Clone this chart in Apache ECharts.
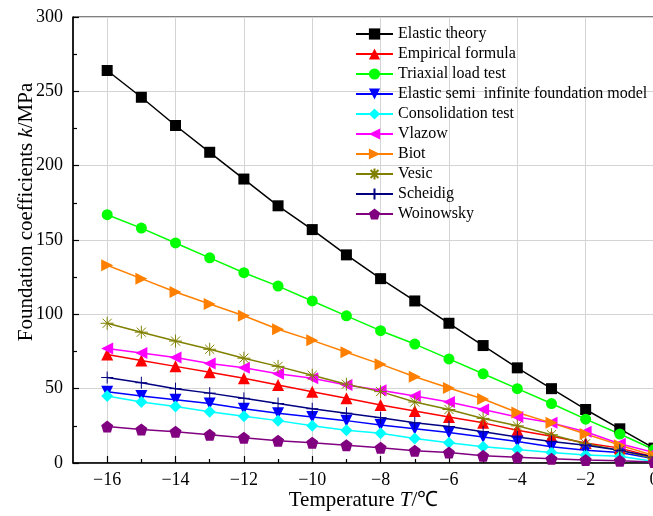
<!DOCTYPE html>
<html>
<head>
<meta charset="utf-8">
<script src="https://cdn.jsdelivr.net/npm/echarts@6/dist/echarts.min.js"></script>
<style>html,body{margin:0;padding:0;background:#fff;}#c{width:653px;height:516px;}</style>
</head>
<body>
<div id="c"></div>
<script>
const temps = [-16,-15,-14,-13,-12,-11,-10,-9,-8,-7,-6,-5,-4,-3,-2,-1,0];
const seriesNames = ['Elastic theory','Empirical formula','Triaxial load test','Elastic semi  infinite foundation model','Consolidation test','Vlazow','Biot','Vesic','Scheidig','Woinowsky'];
const elasticTheory = [264,246,227,209,191,173,157,140,124,109,94,79,64,50,36,23,10];
const empiricalFormula = [73,69,65,61,57,52.5,48,43.5,39,35,31,27,22,18,13.5,10,4];
const triaxialLoadTest = [167,158,148,138,128,119,109,99,89,80,70,60,50,40,29.5,19.5,9];
const elasticSemiInfinite = [48,45,42.5,40,36.5,33.5,31,28.5,25.5,23,20.5,17.5,14.5,11,8.5,7,3];
const consolidationTest = [45,41,38,34.5,31.5,28.5,25,22,20,16.5,13.7,11,9,7,5.4,4.5,1];
const vlazow = [77,74,71,67,64,60,57,52.5,49,45,41,36,31,27,21,13,7];
const biot = [133,124,115,107,99,90,82.5,74.5,66.5,58,50.5,43,34,27,19.5,12,5];
const vesic = [94,88,82,76.5,70.5,65,59,53,48,41,36,30,25,19,13,8.5,3];
const scheidig = [57.5,54,50,47,43.5,40,36.5,33.5,30.5,27,24.5,21,17.5,14.5,12,8.5,4];
const woinowsky = [24.5,22.5,21,19,17,15,13.7,12,10.3,8.3,7,4.8,3.8,2.8,2,1.5,0.6];
const xMajor = [-16,-14,-12,-10,-8,-6,-4,-2,0];
const xMinor = [-15,-13,-11,-9,-7,-5,-3,-1];

const allData = [elasticTheory, empiricalFormula, triaxialLoadTest, elasticSemiInfinite, consolidationTest, vlazow, biot, vesic, scheidig, woinowsky];
const colors = ['#000000','#ff0000','#00ff00','#0000ff','#00ffff','#ff00ff','#ff8000','#808000','#000080','#800080'];
const symbols = [
  'rect',
  'path://M5,0 L10,9 L0,9 Z',
  'circle',
  'path://M0,0 L10,0 L5,9 Z',
  'path://M5,0 L10,5 L5,10 L0,5 Z',
  'path://M0,5 L9,0 L9,10 Z',
  'path://M0,0 L9,5 L0,10 Z',
  'path://M5,0 L5,10 M0,5 L10,5 M1.5,1.5 L8.5,8.5 M1.5,8.5 L8.5,1.5',
  'path://M5,0 L5,10 M0,5 L10,5',
  'path://M5,0 L10,3.8 L8.1,10 L1.9,10 L0,3.8 Z'
];
const sizes = [11,12,11,12,12,12,12,13,12,12];
const stroked = [false,false,false,false,false,false,false,true,true,false];

const FONT = '"Liberation Serif","Times New Roman",serif';
const minus = v => String(v).replace('-', '\u2212');

const series = seriesNames.map((name, i) => ({
  name: name,
  type: 'line',
  data: temps.map((t, j) => [t, allData[i][j]]),
  symbol: symbols[i],
  symbolSize: sizes[i],
  showAllSymbol: true,
  color: colors[i],
  lineStyle: {color: colors[i], width: 1.5},
  itemStyle: stroked[i] ? {color: colors[i], borderColor: colors[i], borderWidth: 1} : {color: colors[i]},
  clip: false,
  animation: false
}));

const chart = echarts.init(document.getElementById('c'), null, {renderer: 'canvas'});
chart.setOption({
  backgroundColor: '#ffffff',
  animation: false,
  grid: {left: 73, top: 17, width: 581, height: 446, show: true, borderColor: '#000', borderWidth: 1, containLabel: false, outerBoundsMode: 'none'},
  legend: {
    orient: 'vertical',
    left: 355,
    top: 26,
    padding: 0,
    itemWidth: 37,
    itemHeight: 14,
    itemGap: 4,
    data: seriesNames,
    textStyle: {fontFamily: FONT, fontSize: 16, lineHeight: 16, color: '#000'},
    backgroundColor: 'transparent'
  },
  xAxis: [{
    type: 'value',
    min: -17, max: 0, interval: 1,
    axisLine: {show: true, onZero: false, lineStyle: {color: '#000', width: 1.5}},
    axisTick: {show: true, inside: true, length: 7, customValues: xMajor, lineStyle: {color: '#000', width: 1.2}},
    axisLabel: {show: true, customValues: xMajor, margin: 8, fontFamily: FONT, fontSize: 18, color: '#000', formatter: minus},
    splitLine: {show: true, lineStyle: {color: '#d4d4d4', width: 1}},
    name: '{a|Temperature }{i|T}{a|/\u2103}',
    nameLocation: 'middle',
    nameGap: 27,
    nameMoveOverlap: false,
    nameTextStyle: {rich: {a: {fontFamily: FONT, fontSize: 21, color: '#000'}, i: {fontFamily: FONT, fontSize: 21, fontStyle: 'italic', color: '#000'}}}
  }, {
    type: 'value',
    min: -17, max: 0, interval: 1,
    gridIndex: 0,
    position: 'bottom',
    axisLine: {show: false},
    axisTick: {show: true, inside: true, length: 4, customValues: xMinor, lineStyle: {color: '#000', width: 1.2}},
    axisLabel: {show: false},
    splitLine: {show: false}
  }],
  yAxis: [{
    type: 'value',
    min: 0, max: 300, interval: 50,
    axisLine: {show: true, onZero: false, lineStyle: {color: '#000', width: 1.5}},
    axisTick: {show: true, inside: true, length: 6, lineStyle: {color: '#000', width: 1.2}},
    minorTick: {show: true, splitNumber: 2, length: 4, lineStyle: {color: '#000', width: 1.2}},
    axisLabel: {margin: 10, fontFamily: FONT, fontSize: 18, color: '#000'},
    splitLine: {show: true, lineStyle: {color: '#d4d4d4', width: 1}}
  }],
  graphic: [{
    type: 'text',
    x: 26, y: 212,
    rotation: Math.PI / 2,
    style: {
      text: '{a|Foundation coefficients }{i|k}{a|/MPa}',
      align: 'center', verticalAlign: 'middle',
      rich: {a: {fontFamily: FONT, fontSize: 21, fill: '#000'}, i: {fontFamily: FONT, fontSize: 21, fontStyle: 'italic', fill: '#000'}}
    }
  }],
  series: series
});
</script>
</body>
</html>
